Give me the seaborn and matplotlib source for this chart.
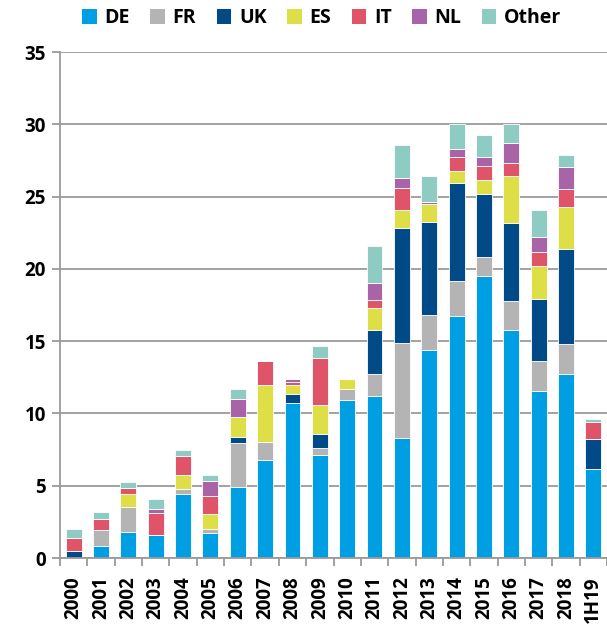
import numpy as np
import pandas as pd
import matplotlib.pyplot as plt
import seaborn as sns
from matplotlib.patches import Patch
from matplotlib.ticker import FixedLocator

years = ['2000', '2001', '2002', '2003', '2004', '2005', '2006', '2007', '2008', '2009',
         '2010', '2011', '2012', '2013', '2014', '2015', '2016', '2017', '2018', '1H19']

de = [0, 0.8, 1.8, 1.6, 4.45, 1.7, 4.9, 6.8, 10.7, 7.1,
      10.9, 11.2, 8.3, 14.4, 16.75, 19.5, 15.8, 11.55, 12.7, 6.15]
fr = [0, 1.15, 1.7, 0, 0.3, 0.3, 3.05, 1.25, 0, 0.5,
      0.8, 1.5, 6.55, 2.4, 2.4, 1.35, 2.0, 2.05, 2.1, 0]
uk = [0.45, 0, 0, 0, 0, 0, 0.4, 0, 0.65, 1.0,
      0, 3.05, 7.95, 6.45, 6.8, 4.3, 5.4, 4.3, 6.55, 2.1]
es = [0, 0, 0.9, 0, 1.0, 1.05, 1.4, 3.9, 0.6, 1.95,
      0.65, 1.55, 1.25, 1.25, 0.8, 1.0, 3.2, 2.3, 2.95, 0]
it = [0.9, 0.75, 0.45, 1.5, 1.3, 1.25, 0, 1.7, 0.2, 3.3,
      0, 0.55, 1.55, 0, 1.0, 0.95, 0.9, 1.0, 1.25, 1.15]
nl = [0, 0, 0, 0.3, 0, 1.0, 1.25, 0, 0.25, 0,
      0, 1.15, 0.7, 0.1, 0.55, 0.65, 1.4, 1.0, 1.5, 0]
other = [0.65, 0.45, 0.4, 0.7, 0.45, 0.45, 0.7, 0, 0, 0.8,
         0, 2.6, 2.3, 1.8, 1.75, 1.5, 1.35, 1.85, 0.8, 0.2]

series = ['DE', 'FR', 'UK', 'ES', 'IT', 'NL', 'Other']
colors = ['#009FE3', '#B4B4B4', '#004A87', '#DEDF47', '#E05469', '#A864A6', '#8ECBC2']

df = pd.DataFrame({'year': years, 'DE': de, 'FR': fr, 'UK': uk, 'ES': es,
                   'IT': it, 'NL': nl, 'Other': other})

plt.rcParams['font.family'] = ['Open Sans', 'DejaVu Sans']
plt.rcParams['font.weight'] = 'bold'

fig = plt.figure(figsize=(6.07, 6.27), dpi=100)
ax = fig.add_axes([60/607, 1-558/627, 1-60/607, (558-52)/627])

bottom = np.zeros(len(years))
for s, c in zip(series, colors):
    sns.barplot(data=df, x='year', y=s, bottom=bottom, color=c, width=0.58,
                edgecolor='white', linewidth=0.6, saturation=1, ax=ax)
    bottom = bottom + df[s].values

ax.set_xlim(-0.5, len(years) - 0.5)
ax.set_ylim(0, 35)
ax.set_yticks(range(0, 36, 5))
ax.set_xlabel('')
ax.set_ylabel('')
ax.set_axisbelow(True)
ax.yaxis.grid(True, color='#9a9a9a', lw=1.3)
for sp in ['top', 'right']:
    ax.spines[sp].set_visible(False)
for sp in ['left', 'bottom']:
    ax.spines[sp].set_color('#9a9a9a')
    ax.spines[sp].set_linewidth(1.3)

ax.tick_params(axis='y', length=6, color='#9a9a9a', width=1.3, labelsize=13.5, pad=4)
ax.tick_params(axis='x', which='major', length=0, labelsize=13.5, pad=13, rotation=90)
ax.xaxis.set_minor_locator(FixedLocator(np.arange(-0.5, len(years), 1)))
ax.tick_params(axis='x', which='minor', length=6, color='#9a9a9a', width=1.3)
for lab in ax.get_xticklabels() + ax.get_yticklabels():
    lab.set_fontweight('bold')

handles = [Patch(facecolor=c, edgecolor='none') for c in colors]
fig.legend(handles, series, loc='center', bbox_to_anchor=(0.53, 0.971), ncol=7,
           frameon=False, handlelength=0.75, handleheight=0.75, handletextpad=0.4,
           columnspacing=1.05, prop={'weight': 'bold', 'size': 14})

fig.savefig('out.png', dpi=100)
